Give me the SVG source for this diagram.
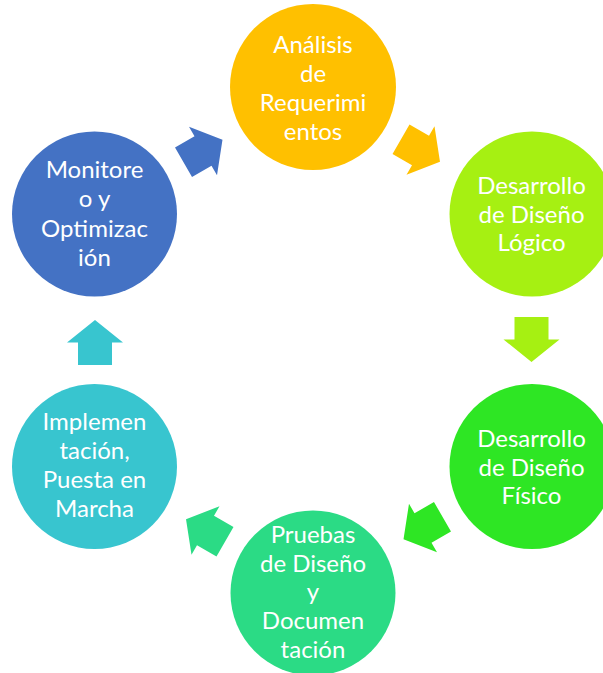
<svg xmlns="http://www.w3.org/2000/svg" width="603" height="673" viewBox="0 0 603 673">
<style>
  .lbl { font-family: Lato, "Open Sans", "Liberation Sans", sans-serif; font-size: 24px; fill: #ffffff; text-anchor: middle; }
</style>
<defs>
  <path id="arr" d="M -22.5,-17 L 0,-17 L 0,-28 L 22.5,0 L 0,28 L 0,17 L -22.5,17 Z"/>
</defs>
<rect width="603" height="673" fill="#ffffff"/>
<g id="connectors">
  <use href="#arr" fill="#FFC000" transform="translate(420.5,150.5) rotate(30)"/>
  <use href="#arr" fill="#A6F012" transform="translate(531.5,339.5) rotate(90)"/>
  <use href="#arr" fill="#2EE624" transform="translate(423,528) rotate(150)"/>
  <use href="#arr" fill="#2BDB85" transform="translate(205.5,530.5) rotate(210)"/>
  <use href="#arr" fill="#38C5CF" transform="translate(95,342.5) rotate(-90)"/>
  <use href="#arr" fill="#4472C4" transform="translate(203,151) rotate(-30)"/>
</g>
<g id="analisis">
  <circle cx="313" cy="87" r="83" fill="#FFC000"/>
  <text class="lbl" x="313" y="53">Análisis</text>
  <text class="lbl" x="313" y="82">de</text>
  <text class="lbl" x="313" y="111">Requerimi</text>
  <text class="lbl" x="313" y="140">entos</text>
</g>
<g id="logico">
  <circle cx="532" cy="214" r="82.5" fill="#A6F012"/>
  <text class="lbl" x="531.5" y="194">Desarrollo</text>
  <text class="lbl" x="531.5" y="222.5">de Diseño</text>
  <text class="lbl" x="531.5" y="251">Lógico</text>
</g>
<g id="fisico">
  <circle cx="532" cy="466.5" r="82.5" fill="#2EE624"/>
  <text class="lbl" x="531.5" y="447">Desarrollo</text>
  <text class="lbl" x="531.5" y="476">de Diseño</text>
  <text class="lbl" x="531.5" y="504">Físico</text>
</g>
<g id="pruebas">
  <circle cx="313" cy="593" r="82.5" fill="#2BDB85"/>
  <text class="lbl" x="313" y="543">Pruebas</text>
  <text class="lbl" x="313" y="572">de Diseño</text>
  <text class="lbl" x="313" y="600">y</text>
  <text class="lbl" x="313" y="629">Documen</text>
  <text class="lbl" x="313" y="658">tación</text>
</g>
<g id="implementacion">
  <circle cx="94.5" cy="466.5" r="82.5" fill="#38C5CF"/>
  <text class="lbl" x="94.5" y="430">Implemen</text>
  <text class="lbl" x="94.5" y="459">tación,</text>
  <text class="lbl" x="94.5" y="488">Puesta en</text>
  <text class="lbl" x="94.5" y="517">Marcha</text>
</g>
<g id="monitoreo">
  <circle cx="94.5" cy="214" r="82.5" fill="#4472C4"/>
  <text class="lbl" x="94.5" y="178">Monitore</text>
  <text class="lbl" x="94.5" y="207">o y</text>
  <text class="lbl" x="94.5" y="237">Optimizac</text>
  <text class="lbl" x="94.5" y="266">ión</text>
</g>
</svg>
